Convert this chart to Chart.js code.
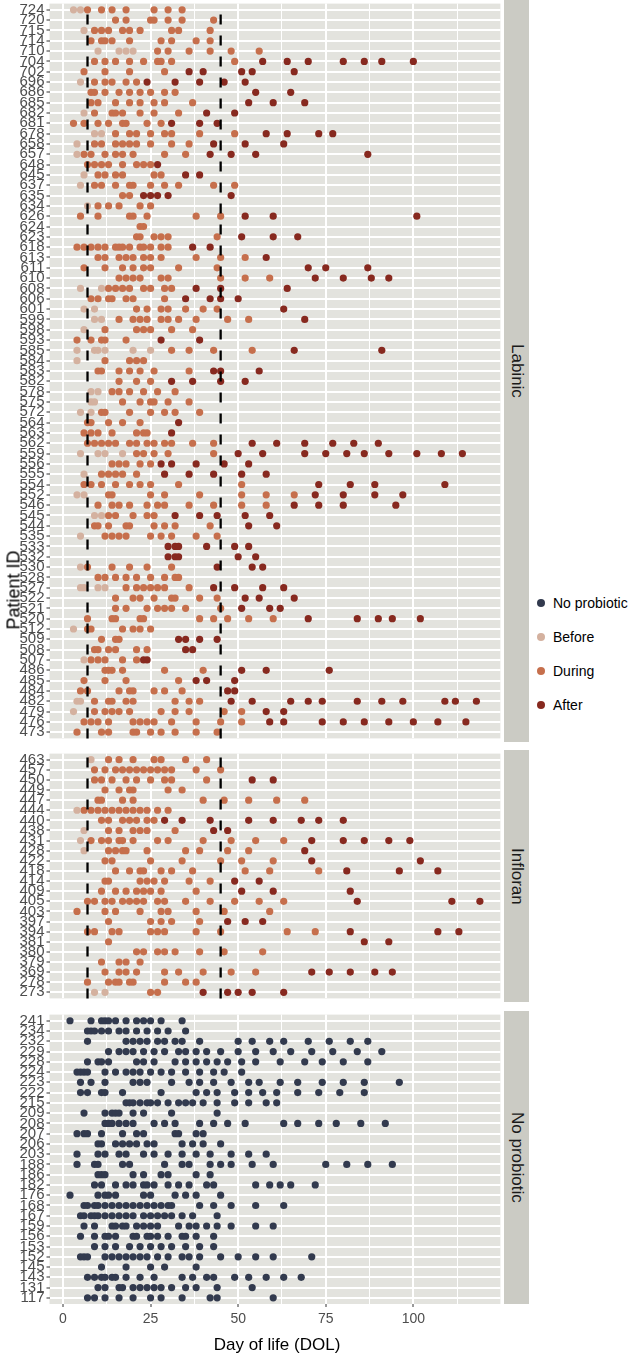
<!DOCTYPE html>
<html>
<head>
<meta charset="utf-8">
<script src="https://cdn.jsdelivr.net/npm/chart.js@4.4.1/dist/chart.umd.min.js"></script>
<style>
  body { margin: 0; width: 631px; height: 1357px; background: #fff; position: relative; overflow: hidden;
         font-family: "Liberation Sans", Arial, sans-serif; }
  canvas { position: absolute; left: 0; }
  .strip { position: absolute; left: 504px; width: 25px; background: #CBCBC4; color: #1a1a1a; font-size: 17px;
           writing-mode: vertical-rl; display: flex; align-items: center; justify-content: center; }
  .ytitle { position: absolute; left: 14px; top: 590px; transform: translate(-50%, -50%) rotate(-90deg);
            font-size: 18px; white-space: nowrap; color: #000; }
  .xtitle { position: absolute; left: 277px; top: 1345px; transform: translate(-50%, -50%);
            font-size: 17px; white-space: nowrap; color: #000; }
  .legend { position: absolute; left: 535px; top: 586px; font-size: 14px; color: #000; }
  .legend div { height: 34px; display: flex; align-items: center; white-space: nowrap; }
  .legend span { width: 8px; height: 8px; border-radius: 50%; display: inline-block; margin: 0 8px 0 2px; }
</style>
</head>
<body>
<canvas id="labinic" width="504" height="742" style="top:0px"></canvas>
<canvas id="infloran" width="504" height="252" style="top:750px"></canvas>
<canvas id="noprob" width="504" height="346" style="top:1011px"></canvas>

<div class="strip" style="top:0px;height:742px">Labinic</div>
<div class="strip" style="top:750px;height:252px">Infloran</div>
<div class="strip" style="top:1011px;height:293px">No probiotic</div>

<div class="ytitle">Patient ID</div>
<div class="xtitle">Day of life (DOL)</div>

<div class="legend">
  <div><span style="background:#323A4E"></span>No probiotic</div>
  <div><span style="background:#D4B19F"></span>Before</div>
  <div><span style="background:#C66F4C"></span>During</div>
  <div><span style="background:#87291F"></span>After</div>
</div>

<script>
// day-of-life axis
const xMin = -3.85;
const xMax = 124.85;
const xBreaks = [0, 12.5, 25, 37.5, 50, 62.5, 75, 87.5, 100, 112.5];
const dashedDays = [7, 45];

// Labinic patients (top to bottom) and their sample days per phase
const labinicIds = ['724','720','715','714','710','704','702','696','686','685','682','681','678','658','657','648','645','637','635','634','626','624','623','618','613','611','610','608','606','601','599','598','593','585','584','583','582','578','575','572','564','563','562','559','556','555','554','552','546','545','544','535','533','532','530','528','527','522','521','520','512','509','508','507','486','485','484','482','479','476','473'];
const labinicBefore = [
  [3,5],[],[6],[],[10,16,18,20],[],[],[5],[],[],
  [6],[],[9,11],[4],[4],[],[6],[5],[],[7],
  [],[],[],[],[],[],[],[5,11],[],[6,9],
  [9,11],[6],[],[4,9,10,12,20,25],[4],[],[],[8,10],[8,9],[5,8],
  [],[],[],[5,10,12,17],[],[6],[],[4,6],[],[9,11],
  [],[5],[],[],[5],[],[5,6,10,12],[],[],[],
  [3],[],[],[6],[],[],[],[4,5],[3],[],[]
];
const labinicDuring = [
  [7,11,14,18,26,30,34],[15,18,25,26,30,34,43],[9,11,13,17,19,22,31,33,42],[8,11,12,14,19,28,31,38,42],[27,30,36,42,48,56],
  [9,12,15,19,23,27,28,31,49],[6,12,19,29],[9,12,14,18,21],[8,9,12,16,19,22,25,29,32],[8,10,15,19,22,26,29,37],
  [9,14,15,17,22,26,33],[3,6,10,13,17,18,24,28],[15,19,21,25,29,31,39,49],[9,11,15,17,19,21,25,31,36],[6,8,12,15,17,20,29,35],
  [7,9,11,13,17,21,23,25],[10,12,15,17,26,28],[9,11,15,19,20,25,29,33,43,49],[17,19],[10,13,16,22,25],
  [5,10,19,20,24,38,45],[22,23],[21,22,26,28,30,44],[4,6,8,10,12,15,16,17,19,22,23,25,28,30],[10,12,16,18,20,23,25,28,38,45,52],
  [6,12,17,20,23,25,33,44],[16,18,20,22,28,30,45,52,59],[13,15,17,19,23,25,29,31],[8,10,13,14,18,20,29],[21,24,28,30,35,40,44],
  [16,20,22,24,28,30,33,38,47,53],[12,21,23,25,31,37],[4,8,11,12,18],[31,36,43,54],[12,19,21,23],
  [10,11,16,19,22,26,36],[16,21,25],[14,16,19,23,27,32],[17,22,25,26,30,36],[11,12,19,25,29,32,39],
  [7,8,13,17,22],[6,8,10,14,21,23,24],[7,9,11,13,15,19,21,24,26,29,31,37,43],[21,23,26,30,43],[14,16,18,22,25],
  [11,13,15,17,21],[6,8,11,15,19,22,25,33,51],[13,14,25,29,39,51,58,66],[10,14,16,19,24,27,29,36,43,51,58],[13,15,20,24,26],
  [9,10,13,18,19,26,29,32,42],[12,14,16,18,25,28,31,38,44],[],[],[7,14,19,24,31],
  [10,12,15,18,21,25,29,32,33],[18,21,23,25,27,29,36],[15,20,22,26,31,32,39,44],[15,18,24,27,29,31,35,45],[7,14,15,22,23,39,43,47,53,60],
  [7,8,17,20,22,25],[11,15,16],[9,10,13,15,21,24],[8,10,12,17,21],[12,13,14,17,29,40],
  [6,12,18,33],[5,7,16,19,20,26,29,34],[9,13,14,18,20,32,36,39],[9,12,14,16,19,28,32,36,46,51],[6,8,10,13,20,22,24,26,31,38,45,51],
  [4,11,13,20,21,25,28,32,38,44]
];
const labinicAfter = [
  [],[],[],[],[],[57,64,70,80,86,91,100],[36,40,51,54,66],[24,32,39,46,52],[55,65],[53,60,69],
  [41,49],[31,39,44],[58,64,73,77],[43,52,63],[42,48,55,87],[27],[35,39],[],[23,25,27,30,48],[],
  [52,60,101],[],[51,60,67],[37,42],[58],[70,75,87],[72,80,88,93],[38,45,64],[35,42,45,50],[63],
  [69],[],[28,39],[66,91],[],[43,45,56],[31,37,45,52],[],[],[],
  [33],[31],[54,61,69,77,83,90],[50,57,69,75,81,86,93,101,108,114],[28,31,38,46,53],[29,36,43,51,58],[73,82,89,109],[72,80,89,97],[66,73,80,95],[32,39,44,52,59],
  [53,61],[],[30,32,33,41,49,53],[30,32,33,50,55],[44,54,57],[],[43,49,57,63],[52,56,66],[51,59,62],[70,84,90,94,102],
  [],[33,35,39,44],[35,37],[23,24],[51,58,76],[38,41,49],[47,49],[48,54,65,70,74,84,91,97,109,112,118],[58,63],[59,63,74,80,86,93,100,107,115],[]
];

// Infloran patients
const infloranIds = ['463','457','450','449','447','444','440','438','431','428','422','418','414','409','405','403','397','394','381','380','379','369','278','273'];
const infloranBefore = [
  [8],[],[],[],[],[4],[],[6],[5],[6],[],[],
  [],[],[],[],[],[],[],[],[],[],[],[9,12]
];
const infloranDuring = [
  [13,16,20,26,28,35,41],[9,12,15,17,19,21,23,25,27,29,31,38,45],[9,11,14,18,21,25,29,31,41],[12,16,19,20,30,34],
  [10,11,17,20,40,46,53,61,69],[6,8,10,12,14,16,18,20,22,24,27,30],[11,13,17,19,21,24,26],[13,16,20,22,24,32],
  [8,11,13,16,17,20,27,30,40,48,55,63],[13,15,17,18,24,35,39,47,53],[12,14,25,34,45,51,60],[15,19,22,23,28,31,37,52,59,73],
  [12,13,22,24,26,29,36,42],[11,15,18,21,23,25,28,38],[7,9,12,14,17,19,21,23,27,29,35,42,49,56,63],[4,12,15,22,28,30,38,46,59],
  [13,25,28,31,39],[7,9,14,16,25,27,29,38,45,64,72],[13],[21,23,27,29,32,39,46,57],
  [11,16,18,22],[12,16,18,21,29,33,40,48,55],[7,13,15,16,19,20,29,35,38],[25,27]
];
const infloranAfter = [
  [],[],[54,60],[],[],[],[29,34,42,53,60,68,73,80],[43,47],[71,80,86,93,99],[69],[71,102],[81,96,107],
  [49,56],[51,60,82],[84,111,119],[],[47,52,57],[82,107,113],[86,93],[],[],[71,76,82,89,94],[],[40,47,50,54,63]
];

// No probiotic patients
const noProbIds = ['241','234','232','229','228','224','223','222','215','209','208','207','206','203','188','186','182','176','168','167','159','156','153','152','145','143','131','117'];
const noProbDays = [
  [2,8,11,12,13,15,18,21,23,25,28,34],
  [7,8,9,11,13,16,18,21,24,27,30,35],
  [7,18,20,22,24,27,29,32,34,39,50,54,59,63,70,76,82,87],
  [13,16,18,20,23,26,29,33,35,38,41,45,50,55,60,65,71,77,84,91],
  [7,10,11,13,21,23,26,32,35,38,41,44,47,51,55,62,69,74,80,87],
  [4,5,6,7,12,15,18,20,22,25,28,31,35,39,43,46,51],
  [5,8,12,20,22,24,31,36,39,43,48,53,56,62,67,74,80,86,96],
  [5,7,11,12,17,28,38,41,44,49,53,57,61,67,73,79,86],
  [18,19,20,22,24,25,27,30,33,35,37,40,44,49,53,58,61],
  [6,12,14,15,16,20,23,31,44],
  [12,13,14,16,18,20,26,29,32,39,43,47,52,63,67,73,78,85,92],
  [4,6,7,11,17,21,23,32,33,38,40],
  [10,11,15,17,19,21,24,26,34,37,40,45],
  [4,10,12,16,18,23,26,30,34,38,42,48,53,58],
  [4,9,10,17,19,29,34,36,42,45,48,54,60,75,81,87,94],
  [10,11,12,20,23,28,30,38,42],
  [9,11,15,18,20,23,24,26,30,33,36,41,43,55,59,62,65,72],
  [2,10,12,13,15,23,25,32,35,38,45],
  [6,7,9,10,12,14,16,18,20,22,24,26,28,30,31,39,43,48,55,63],
  [5,6,8,9,10,12,14,16,18,20,23,25,27,29,31,34,37,44],
  [6,9,14,15,17,18,21,23,25,27,33,36,38,41,44,48,55,60],
  [5,9,12,13,15,20,21,24,25,27,30,34,35,38,43],
  [9,12,15,19,22,25,28,31,35,39,43],
  [5,6,7,12,14,16,18,20,22,24,27,30,34,36,39,45,50,55,60,71],
  [11,18,25,29,38],
  [7,9,11,12,14,15,18,22,26,34,37,41,43,49,53,58,63,68],
  [10,12,16,17,20,22,24,26,28,31,35,38,44,54],
  [7,9,12,16,20,25,28,34,42,44,60]
];

const colNone = '#323A4E';
const colBefore = '#D4B19F';
const colDuring = '#C66F4C';
const colAfter = '#87291F';
const panelBg = '#E3E3DE';
const fontFam = '"Liberation Sans", Arial, sans-serif';

function toPoints(rows) {
  const pts = [];
  rows.forEach((days, i) => days.forEach(d => pts.push({ x: d, y: i })));
  return pts;
}

function series(label, rows, color) {
  return { label: label, data: toPoints(rows), backgroundColor: color, borderWidth: 0,
           pointRadius: 3.6, pointHoverRadius: 3.6 };
}

const panelFill = {
  id: 'panelFill',
  beforeDraw(chart) {
    const a = chart.chartArea, ctx = chart.ctx;
    ctx.save();
    ctx.fillStyle = panelBg;
    ctx.fillRect(a.left, a.top, a.right - a.left, a.bottom - a.top);
    ctx.restore();
  }
};

const dashLines = {
  id: 'dashLines',
  afterDatasetsDraw(chart) {
    const a = chart.chartArea, ctx = chart.ctx, x = chart.scales.x;
    ctx.save();
    ctx.strokeStyle = '#000';
    ctx.lineWidth = 2.3;
    ctx.setLineDash([10, 11]);
    dashedDays.forEach(d => {
      const px = x.getPixelForValue(d);
      ctx.beginPath();
      ctx.moveTo(px, a.bottom);
      ctx.lineTo(px, a.top);
      ctx.stroke();
    });
    ctx.restore();
  }
};

function makePanel(canvasId, ids, datasets, showX, dashes) {
  const n = ids.length;
  const plugins = [panelFill];
  if (dashes) plugins.push(dashLines);
  return new Chart(document.getElementById(canvasId), {
    type: 'scatter',
    data: { datasets: datasets },
    options: {
      responsive: false,
      animation: false,
      devicePixelRatio: 1,
      layout: { padding: 0 },
      plugins: { legend: { display: false }, tooltip: { enabled: false } },
      scales: {
        x: {
          type: 'linear', min: xMin, max: xMax,
          afterBuildTicks: s => { s.ticks = xBreaks.map(v => ({ value: v })); },
          grid: {
            color: '#fff',
            lineWidth: c => (c.tick && c.tick.value % 25 === 0) ? 2 : 1,
            drawTicks: showX, tickLength: 3, tickWidth: 1,
            tickColor: c => (c.tick && c.tick.value % 25 === 0) ? '#333' : 'rgba(0,0,0,0)'
          },
          border: { display: false },
          ticks: {
            display: showX, autoSkip: false, maxRotation: 0, padding: 4, color: '#4d4d4d',
            font: { family: fontFam, size: 14 },
            callback: v => (v % 25 === 0) ? v : ''
          },
          afterFit: s => { s.height = showX ? 53 : 0; s.paddingLeft = 0; s.paddingRight = 0; }
        },
        y: {
          type: 'linear', reverse: true, min: -0.6, max: n - 0.4,
          afterBuildTicks: s => { s.ticks = ids.map((_, i) => ({ value: i })); },
          grid: { color: '#fff', lineWidth: 2, drawTicks: true, tickLength: 3, tickColor: '#333', tickWidth: 1 },
          border: { display: false },
          ticks: {
            autoSkip: false, padding: 2, color: '#4d4d4d',
            font: { family: fontFam, size: 15 },
            callback: v => ids[v]
          },
          afterFit: s => { s.width = 49.5; s.paddingTop = 0; s.paddingBottom = 0; }
        }
      }
    },
    plugins: plugins
  });
}

makePanel('labinic', labinicIds, [
  series('Before', labinicBefore, colBefore),
  series('During', labinicDuring, colDuring),
  series('After', labinicAfter, colAfter)
], false, true);

makePanel('infloran', infloranIds, [
  series('Before', infloranBefore, colBefore),
  series('During', infloranDuring, colDuring),
  series('After', infloranAfter, colAfter)
], false, true);

makePanel('noprob', noProbIds, [
  series('No probiotic', noProbDays, colNone)
], true, false);
</script>
</body>
</html>
